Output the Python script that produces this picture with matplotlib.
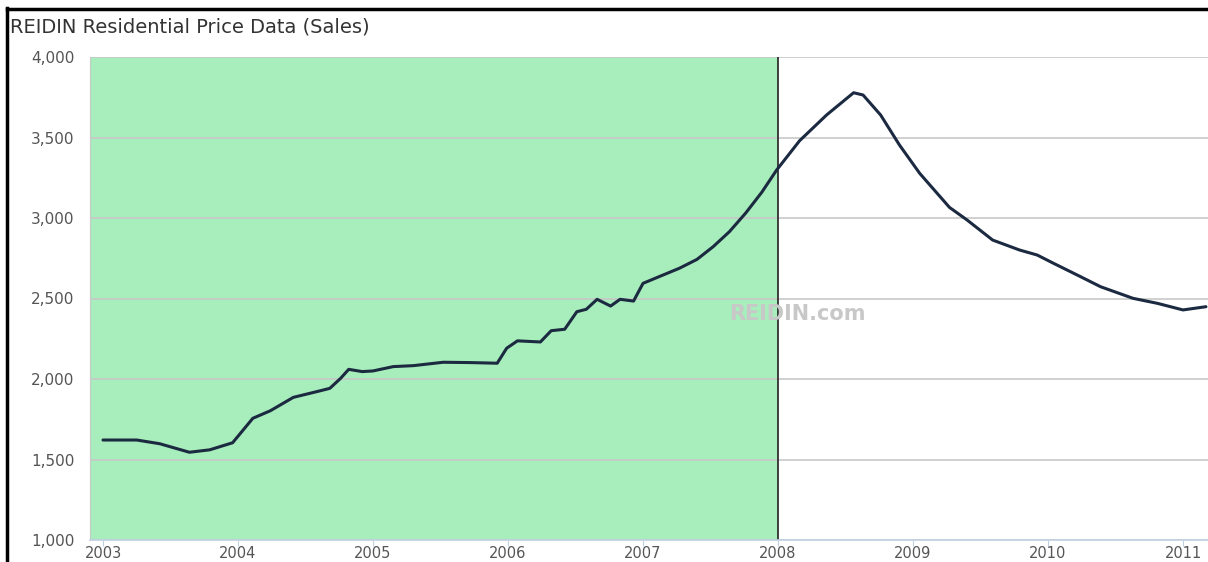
import matplotlib.pyplot as plt
from matplotlib.lines import Line2D

# REIDIN residential sales price index
years = [2003.00, 2003.25, 2003.42, 2003.64, 2003.79, 2003.96, 2004.11, 2004.24,
         2004.41, 2004.61, 2004.68, 2004.76, 2004.82, 2004.92, 2005.00, 2005.15,
         2005.30, 2005.52, 2005.72, 2005.92, 2005.99, 2006.07, 2006.24, 2006.32,
         2006.42, 2006.51, 2006.58, 2006.66, 2006.76, 2006.83, 2006.93, 2007.00,
         2007.10, 2007.27, 2007.40, 2007.52, 2007.64, 2007.76, 2007.88, 2007.99,
         2008.16, 2008.36, 2008.56, 2008.63, 2008.76, 2008.90, 2009.05, 2009.27,
         2009.40, 2009.59, 2009.79, 2009.92, 2010.04, 2010.24, 2010.39, 2010.63,
         2010.81, 2011.00, 2011.17]
prices = [1621, 1621, 1598, 1545, 1560, 1604, 1756, 1803,
          1886, 1927, 1942, 2004, 2060, 2046, 2050, 2077,
          2083, 2104, 2102, 2098, 2191, 2237, 2230, 2300,
          2309, 2418, 2433, 2495, 2453, 2495, 2484, 2594,
          2629, 2688, 2743, 2822, 2915, 3030, 3160, 3298,
          3480, 3640, 3778, 3764, 3640, 3453, 3277, 3066,
          2988, 2863, 2801, 2770, 2719, 2636, 2573, 2501,
          2470, 2429, 2449]

year_ticks = [2003, 2004, 2005, 2006, 2007, 2008, 2009, 2010, 2011]
price_ticks = [1000, 1500, 2000, 2500, 3000, 3500, 4000]
highlight_end = 2008

plt.rcParams['font.family'] = ['DejaVu Sans']

fig = plt.figure(figsize=(12.08, 5.62), dpi=100)
ax = fig.add_axes([90 / 1208, 1 - 540 / 562, 1 - 90 / 1208, (540 - 57) / 562])

x_left = 2003 - 13 / 135
x_right = 2011 + 25 / 135
ax.set_xlim(x_left, x_right)
ax.set_ylim(1000, 4000)

# shaded period and its boundary
ax.axvspan(x_left, highlight_end, color='#a8edbc', zorder=0, lw=0)
ax.axvline(highlight_end, color='#222222', lw=1.2, zorder=2)

ax.set_yticks(price_ticks)
ax.set_yticklabels(['{:,}'.format(v) for v in price_ticks])
ax.set_xticks(year_ticks)
ax.grid(axis='y', color='#c8c8c8', lw=1.2, zorder=1)
ax.set_axisbelow(True)

ax.plot(years, prices, color='#1b2a40', lw=2.2, zorder=3,
        solid_joinstyle='round', solid_capstyle='round')

for s in ['top', 'right']:
    ax.spines[s].set_visible(False)
ax.spines['left'].set_color('#c8c8c8')
ax.spines['bottom'].set_color('#c0d0e0')
ax.spines['bottom'].set_linewidth(1.2)
ax.tick_params(axis='y', length=0, pad=11, labelsize=11, labelcolor='#555555')
ax.tick_params(axis='x', length=4, color='#c0d0e0', pad=0.5, labelsize=10.5,
               labelcolor='#555555')

ax.text(0.633, 0.468, 'REIDIN.com', transform=ax.transAxes, ha='center',
        va='center', fontsize=15, fontweight='bold', color='#c8c8c8', zorder=4)

fig.text(10 / 1208, 1 - 27 / 562, 'REIDIN Residential Price Data (Sales)',
         ha='left', va='center', fontsize=14, color='#333333')

# screenshot frame on the left and top
fig.add_artist(Line2D([6.5 / 1208, 6.5 / 1208], [0, 1 - 8 / 562],
                      transform=fig.transFigure, color='black', lw=2.5))
fig.add_artist(Line2D([6.5 / 1208, 1], [1 - 8.5 / 562, 1 - 8.5 / 562],
                      transform=fig.transFigure, color='black', lw=2.5))

fig.savefig('out.png', dpi=100)
